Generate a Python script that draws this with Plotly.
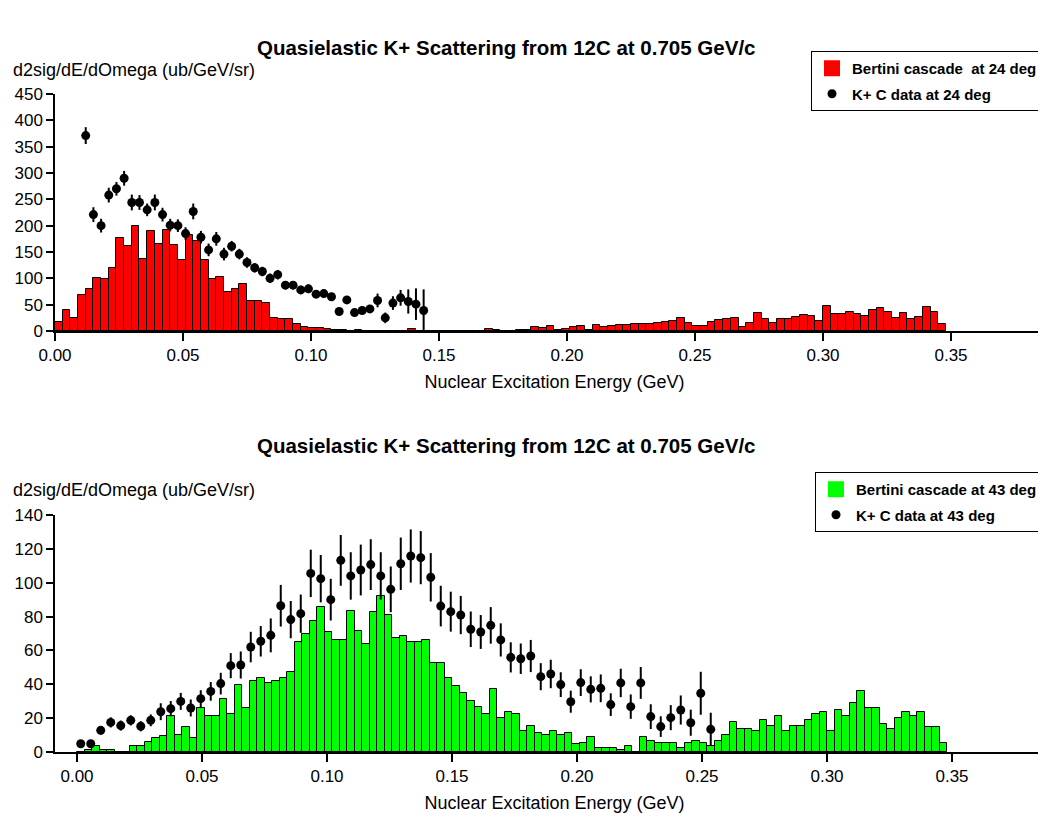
import plotly.graph_objects as go

# ---------------- data ----------------
BIN_WIDTH = 0.003  # GeV

# Top panel: Bertini cascade at 24 deg (histogram contents, bins of 0.003 GeV starting at 0)
bertini_24 = [17, 40, 25, 68, 79, 100, 98, 119, 177, 161, 200, 136, 190, 166, 192, 164,
              134, 182, 171, 134, 98, 103, 74, 79, 90, 57, 57, 53, 24, 22, 23, 14,
              8, 6, 6, 4, 2, 1, 0, 2, 0, 0, 0, 0, 0, 0, 4, 0,
              0, 0, 0, 0, 0, 0, 0, 0, 4, 1, 0, 0, 1, 1, 8, 5,
              9, 1, 4, 7, 9, 2, 11, 7, 9, 12, 12, 14, 14, 14, 16, 18,
              19, 25, 16, 10, 10, 17, 21, 23, 25, 7, 16, 34, 23, 15, 23, 23,
              27, 31, 29, 19, 47, 33, 33, 36, 33, 29, 39, 43, 37, 25, 34, 23,
              27, 45, 37, 14]

# Top panel: K+ C data at 24 deg
data24_E = [0.012, 0.015, 0.018, 0.021, 0.024, 0.027, 0.030, 0.033, 0.036, 0.039,
            0.042, 0.045, 0.048, 0.051, 0.054, 0.057, 0.060, 0.063, 0.066, 0.069,
            0.072, 0.075, 0.078, 0.081, 0.084, 0.087, 0.090, 0.093, 0.096, 0.099,
            0.102, 0.105, 0.108, 0.111, 0.114, 0.117, 0.120, 0.123, 0.126, 0.129,
            0.132, 0.135, 0.138, 0.141, 0.144]
data24_val = [371, 221, 200, 258, 270, 290, 244, 244, 230, 244,
              221, 201, 200, 185, 227, 178, 154, 175, 146, 161,
              146, 130, 120, 113, 100, 107, 87, 87, 78, 80,
              70, 71, 65, 37, 59, 35, 39, 42, 58, 25,
              53, 63, 56, 51, 39]
data24_err = [16, 14, 13, 14, 13, 14, 15, 14, 12, 15,
              13, 12, 12, 12, 15, 12, 12, 13, 12, 10,
              10, 10, 9, 9, 9, 9, 8, 8, 8, 8,
              7, 7, 7, 7, 7, 6, 7, 7, 13, 10,
              13, 15, 23, 30, 40]

# Bottom panel: Bertini cascade at 43 deg
bertini_43 = [0, 1, 3.3, 1.4, 1.4, 0, 0, 3.3, 3.3, 5.7, 8, 9.3, 21.5, 10, 14.6, 8,
              26, 21.5, 21.5, 31.5, 22.6, 39.6, 25.8, 41.7, 43.7, 40.8, 41.7, 43.7, 47.3, 65.2, 69.5, 77.5,
              85.4, 70.8, 66.3, 66.3, 83, 71.7, 64, 82.9, 91.9, 80.9, 67.3, 68.5, 65.2, 65.2, 66.2, 52.8,
              52.8, 43.7, 39.2, 34.8, 30.3, 26.8, 22.4, 37, 20.3, 23.4, 22.2, 12.4, 15.6, 11.2, 10, 12.4,
              10, 11.2, 4.5, 5.5, 8.9, 2.4, 2.2, 2.2, 1.2, 3.4, 0, 9, 6.7, 5.5, 5.5, 5.5,
              2.2, 5.5, 6.7, 5.5, 3.3, 6.7, 10, 17.9, 13.4, 13.4, 12.2, 19.1, 15.6, 21.3, 12.2, 15.6,
              15.6, 19.1, 22.4, 23.4, 12.2, 24.6, 21.3, 29.1, 35.8, 25.8, 25.8, 16.7, 13.4, 20.1, 23.4, 21.3,
              23.4, 14.6, 14.6, 5.5]

# Bottom panel: K+ C data at 43 deg
data43_E = [0.0015, 0.0055, 0.0095, 0.0135, 0.0175, 0.0215, 0.0255, 0.0295, 0.0335, 0.0375,
            0.0415, 0.0455, 0.0495, 0.0535, 0.0575, 0.0615, 0.0655, 0.0695, 0.0735, 0.0775,
            0.0815, 0.0855, 0.0895, 0.0935, 0.0975, 0.1015, 0.1055, 0.1095, 0.1135, 0.1175,
            0.1215, 0.1255, 0.1295, 0.1335, 0.1375, 0.1415, 0.1455, 0.1495, 0.1535, 0.1575,
            0.1615, 0.1655, 0.1695, 0.1735, 0.1775, 0.1815, 0.1855, 0.1895, 0.1935, 0.1975,
            0.2015, 0.2055, 0.2095, 0.2135, 0.2175, 0.2215, 0.2255, 0.2295, 0.2335, 0.2375,
            0.2415, 0.2455, 0.2495, 0.2535]
data43_val = [4.9, 4.9, 12.8, 17.5, 15.6, 18.7, 15.2, 18.7, 23.8, 25.6,
              29.9, 26, 31.5, 35.8, 40.4, 51, 51.4, 62, 65.4, 68.9,
              86.4, 78.2, 81.7, 105.5, 102.4, 90, 113.2, 104, 107.5, 110.7,
              104, 96.1, 111.2, 115.8, 114.8, 103.2, 86.2, 82.9, 80.9, 72.5,
              70.9, 74.8, 66.2, 55.9, 55.1, 56.7, 44.5, 46.1, 39.8, 29.7,
              41, 37, 37.6, 28, 40.8, 26.8, 40.8, 20.9, 15, 20.3,
              24.8, 17.3, 34.7, 13.4]
data43_err = [1.5, 2, 2.5, 3, 3, 3, 3, 3.5, 5, 4.5,
              5, 5, 5, 5.5, 6.4, 7.4, 8, 9, 9, 10,
              12.3, 11, 11.3, 14, 14, 12.3, 15, 14, 15, 15,
              14, 13.5, 15.5, 15.7, 15.7, 14.3, 12, 11.8, 11.3, 10.5,
              10, 10.8, 9.8, 8.9, 9, 9.5, 8, 8.4, 7.3, 6.5,
              7.9, 7.7, 8.2, 6.7, 8.4, 7.2, 9.4, 7.3, 6.1, 7.4,
              8.6, 7.7, 12.7, 9.8]

x_tickvals = [0.00, 0.05, 0.10, 0.15, 0.20, 0.25, 0.30, 0.35]
y_top_ticks = [0, 50, 100, 150, 200, 250, 300, 350, 400, 450]
y_bot_ticks = [0, 20, 40, 60, 80, 100, 120, 140]

TITLE = "Quasielastic K+ Scattering from 12C at 0.705 GeV/c"
YTITLE = "d2sig/dE/dOmega (ub/GeV/sr)"
XTITLE = "Nuclear Excitation Energy (GeV)"
LEG_24 = ["Bertini cascade\u00a0 at 24 deg", "K+ C data at 24 deg"]
LEG_43 = ["Bertini cascade at 43 deg", "K+ C data at 43 deg"]

# ---------------- figure ----------------
FONT = "Liberation Sans, Arial, Helvetica, sans-serif"
W, H = 1046, 813
OFF = 8          # page offset of the plot div
ML = 55 - OFF    # left margin so the y axis lands at x=55 on screen
PW = W - ML      # plot width in px
PH = H

def fx(px):
    """screen x -> paper fraction"""
    return (px - OFF - ML) / PW

def fy(py):
    """screen y -> paper fraction"""
    return 1 - (py - OFF) / PH

def bin_centers(n):
    return [(i + 0.5) * BIN_WIDTH for i in range(n)]

fig = go.Figure()

# top
fig.add_trace(go.Bar(x=bin_centers(len(bertini_24)), y=bertini_24, width=BIN_WIDTH,
                     marker=dict(color="#ff0000", line=dict(color="black", width=1)),
                     showlegend=False, xaxis="x", yaxis="y"))
fig.add_trace(go.Scatter(x=[None], y=[None], mode="markers", name="<b>" + LEG_24[0] + "</b>",
                         marker=dict(symbol="square", size=19, color="#ff0000", line=dict(width=0)),
                         legend="legend", xaxis="x", yaxis="y", legendgroup="a"))
fig.add_trace(go.Scatter(x=data24_E, y=data24_val, mode="markers", name="<b>" + LEG_24[1] + "</b>",
                         marker=dict(symbol="circle", size=9, color="black"),
                         error_y=dict(type="data", array=data24_err, color="black", thickness=2, width=0),
                         legend="legend", xaxis="x", yaxis="y", legendgroup="b"))

# bottom
fig.add_trace(go.Bar(x=bin_centers(len(bertini_43)), y=bertini_43, width=BIN_WIDTH,
                     marker=dict(color="#00ff00", line=dict(color="black", width=1)),
                     showlegend=False, xaxis="x2", yaxis="y2"))
fig.add_trace(go.Scatter(x=[None], y=[None], mode="markers", name="<b>" + LEG_43[0] + "</b>",
                         marker=dict(symbol="square", size=19, color="#00ff00", line=dict(width=0)),
                         legend="legend2", xaxis="x2", yaxis="y2", legendgroup="c"))
fig.add_trace(go.Scatter(x=data43_E, y=data43_val, mode="markers", name="<b>" + LEG_43[1] + "</b>",
                         marker=dict(symbol="circle", size=9, color="black"),
                         error_y=dict(type="data", array=data43_err, color="black", thickness=2, width=0),
                         legend="legend2", xaxis="x2", yaxis="y2", legendgroup="d"))

tick_font = dict(family=FONT, size=17, color="black")
title_font = dict(family=FONT, size=18, color="black")

common_x = dict(showline=True, linecolor="black", linewidth=1.5, ticks="outside", ticklen=8,
                tickwidth=1.5, tickcolor="black", tickvals=x_tickvals, tickformat=".2f",
                tickfont=tick_font, showgrid=False, zeroline=False, domain=[0, 1],
                automargin=False,
                title=dict(text=XTITLE, font=title_font, standoff=11))
common_y = dict(showline=True, linecolor="black", linewidth=1.5, ticks="outside", ticklen=7,
                tickwidth=1.5, tickcolor="black", tickfont=tick_font, showgrid=False,
                zeroline=False, automargin=False)
inner_x = dict(showline=False, ticks="inside", ticklen=7, tickwidth=1.5, tickcolor="black",
               tickvals=x_tickvals, showticklabels=False, showgrid=False, zeroline=False,
               automargin=False)
inner_y = dict(showline=False, ticks="inside", ticklen=7, tickwidth=1.5, tickcolor="black",
               showticklabels=False, showgrid=False, zeroline=False, automargin=False)

xr_top = [0.0, PW / 2560.0]
xr_bot = [-0.0088, -0.0088 + PW / 2500.0]

legend_common = dict(xanchor="right", yanchor="top", bgcolor="white", bordercolor="black",
                     borderwidth=1, font=dict(family=FONT, size=15, color="black"),
                     tracegroupgap=3, itemsizing="trace")

fig.update_layout(
    width=W, height=H,
    margin=dict(l=ML, r=0, t=0, b=0, autoexpand=False),
    paper_bgcolor="white", plot_bgcolor="white",
    font=dict(family=FONT, color="black"),
    bargap=0,
    xaxis=dict(common_x, range=xr_top, anchor="y"),
    yaxis=dict(common_y, range=[0, 450], tickvals=y_top_ticks, anchor="x",
               domain=[fy(331), fy(94)]),
    xaxis2=dict(common_x, range=xr_bot, anchor="y2"),
    yaxis2=dict(common_y, range=[0, 140], tickvals=y_bot_ticks, anchor="x2",
                domain=[fy(752), fy(515)]),
    xaxis3=dict(inner_x, range=xr_top, overlaying="x", anchor="y"),
    yaxis3=dict(inner_y, range=[0, 450], tickvals=y_top_ticks, overlaying="y", anchor="x"),
    xaxis4=dict(inner_x, range=xr_bot, overlaying="x2", anchor="y2"),
    yaxis4=dict(inner_y, range=[0, 140], tickvals=y_bot_ticks, overlaying="y2", anchor="x2"),
    legend=dict(legend_common, x=fx(1043), y=fy(51)),
    legend2=dict(legend_common, x=fx(1043), y=fy(472)),
    annotations=[
        dict(text="<b>" + TITLE + "</b>", x=fx(506), y=fy(47), xref="paper", yref="paper",
             showarrow=False, xanchor="center", yanchor="middle",
             font=dict(family=FONT, size=20.5, color="black")),
        dict(text="<b>" + TITLE + "</b>", x=fx(506), y=fy(445), xref="paper", yref="paper",
             showarrow=False, xanchor="center", yanchor="middle",
             font=dict(family=FONT, size=20.5, color="black")),
        dict(text=YTITLE, x=fx(11), y=fy(70), xref="paper", yref="paper",
             showarrow=False, xanchor="left", yanchor="middle", font=title_font),
        dict(text=YTITLE, x=fx(11), y=fy(490), xref="paper", yref="paper",
             showarrow=False, xanchor="left", yanchor="middle", font=title_font),
    ],
)

fig.write_html("out.html")
